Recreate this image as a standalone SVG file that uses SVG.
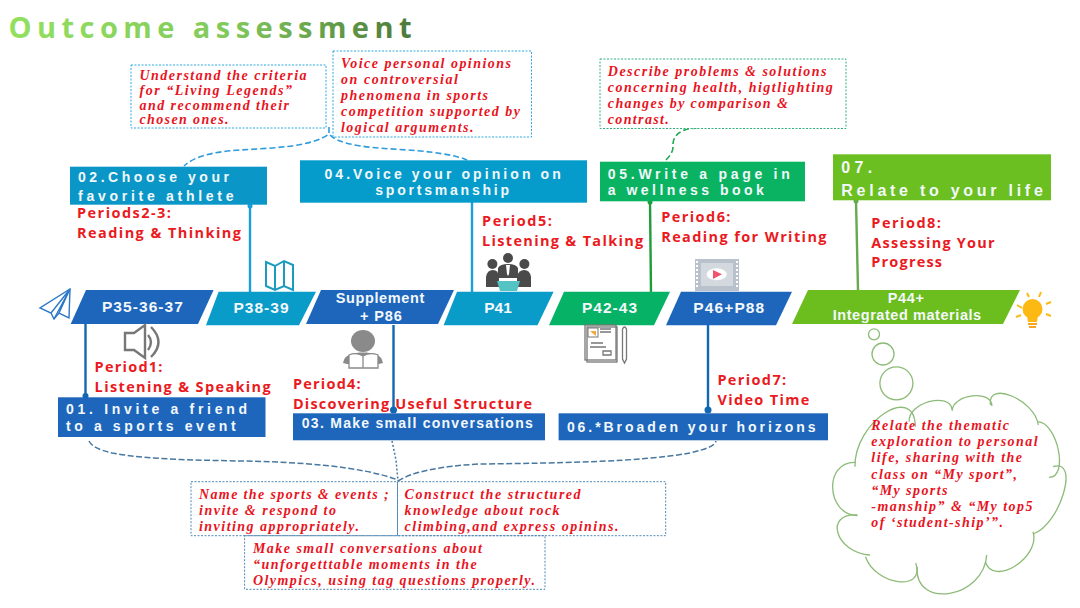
<svg xmlns="http://www.w3.org/2000/svg" width="1080" height="608" viewBox="0 0 1080 608">
<defs>
<linearGradient id="tg" gradientUnits="userSpaceOnUse" x1="8" y1="0" x2="411" y2="0"><stop offset="0" stop-color="#93e05f"/><stop offset="0.55" stop-color="#82c95c"/><stop offset="1" stop-color="#4c7a3a"/></linearGradient>
</defs>
<style>
.obj{font-family:"Liberation Serif","Times New Roman",serif;font-style:italic;font-weight:700;font-size:14px;fill:#e8141e}
.per{font-family:"Open Sans","Noto Sans",sans-serif;font-weight:700;font-size:14.5px;fill:#ea1a1e}
.hd{font-family:"Liberation Sans",Arial,sans-serif;font-weight:700;font-size:14px;fill:#f2f8fb}
.bar{font-family:"Liberation Sans",Arial,sans-serif;font-weight:700;font-size:15.5px;fill:#f4f8fb}
.dash{fill:#fff;stroke:#2ea8dc;stroke-width:1;stroke-dasharray:2 1.5}
.dashg{fill:#fff;stroke:#2fb27c;stroke-width:1;stroke-dasharray:2 1.5}
.dashb{fill:none;stroke:#4f88b4;stroke-width:1;stroke-dasharray:2 1.5}
.cv{fill:none;stroke:#2e9bdc;stroke-width:1.6;stroke-dasharray:6 3}
.cvb{fill:none;stroke:#48789f;stroke-width:1.5;stroke-dasharray:6 2.5}
.st{fill:none;stroke-width:2.4}
.ic{fill:none;stroke:#777;stroke-width:1.3}
</style>
<rect width="1080" height="608" fill="#fff"/>
<text id="title" x="8.500" y="38.300" font-family="Open Sans, Noto Sans, sans-serif" font-weight="700" font-size="29" fill="url(#tg)" textLength="403" lengthAdjust="spacing">Outcome assessment</text>

<g id="connectors">
<path class="cv" d="M329 127V134C312 147 272 148 240 150C212 152 195 156 184 166"/>
<path class="cv" d="M330 135C345 150 400 148 430 152C445 154 458 156 467 160"/>
<path d="M698 128C680 128 672 136 673 147C673 153 668 158 664 162" fill="none" stroke="#1fa94f" stroke-width="1.600" stroke-dasharray="6 3"/>
<path class="cvb" d="M89 441C92 447 100 450 112 453C150 460 200 460 240 461C300 462 360 466 398 480"/>
<path class="cvb" d="M398 481C412 472 440 466 480 464C560 463 640 462 690 453C705 449 714 447 716 441"/>
<path d="M392 441L396 460L398 481" fill="none" stroke="#48789f" stroke-width="1.500" stroke-dasharray="2 2"/>
<path class="st" stroke="#1a9fd8" d="M250 205V292"/><circle cx="250" cy="206" r="2.500" fill="#1a9fd8"/>
<path class="st" stroke="#1a9fd8" d="M472 202V292"/>
<path class="st" stroke="#1f9d3a" d="M650 201L651 292"/><circle cx="650" cy="202" r="2.500" fill="#1f9d3a"/>
<path class="st" stroke="#66a94e" d="M856 200L858 290"/><circle cx="856" cy="201" r="2.500" fill="#66a94e"/>
<path class="st" stroke="#1267b2" d="M85.500 324V397"/><circle cx="85.500" cy="396" r="3" fill="#1267b2"/>
<path class="st" stroke="#1267b2" d="M393.500 325V411"/><circle cx="393.500" cy="410" r="3.500" fill="#1267b2"/>
<path class="st" stroke="#1267b2" d="M708 325V411"/><circle cx="708" cy="410" r="3.500" fill="#1267b2"/>
</g>

<g id="obj-a"><rect class="dash" x="131" y="65" width="195" height="63"/>
<text class="obj" x="139.500" y="80" textLength="167" lengthAdjust="spacing">Understand the criteria</text>
<text class="obj" x="139.500" y="95" textLength="152.500" lengthAdjust="spacing">for “Living Legends”</text>
<text class="obj" x="139.500" y="110" textLength="149.500" lengthAdjust="spacing">and recommend their</text>
<text class="obj" x="139.500" y="124" textLength="89" lengthAdjust="spacing">chosen ones.</text></g>
<g id="obj-b"><rect class="dash" x="333" y="51" width="198.500" height="86"/>
<text class="obj" x="341" y="67.700" textLength="170" lengthAdjust="spacing">Voice personal opinions</text>
<text class="obj" x="341" y="83.700" textLength="117" lengthAdjust="spacing">on controversial</text>
<text class="obj" x="341" y="100" textLength="147" lengthAdjust="spacing">phenomena in sports</text>
<text class="obj" x="341" y="116" textLength="179" lengthAdjust="spacing">competition supported by</text>
<text class="obj" x="341" y="132" textLength="132.500" lengthAdjust="spacing">logical arguments.</text></g>
<g id="obj-c"><rect class="dashg" x="600" y="59" width="246" height="69.500"/>
<text class="obj" x="607.800" y="75.700" textLength="218.700" lengthAdjust="spacing">Describe problems &amp; solutions</text>
<text class="obj" x="607.800" y="92" textLength="225" lengthAdjust="spacing">concerning health, higtlighting</text>
<text class="obj" x="607.800" y="108.300" textLength="180" lengthAdjust="spacing">changes by comparison &amp;</text>
<text class="obj" x="607.800" y="124" textLength="61" lengthAdjust="spacing">contrast.</text></g>

<g id="step-02"><rect x="70" y="166.700" width="197" height="38" fill="#0a96c6"/>
<text class="hd" x="78" y="182" textLength="151" lengthAdjust="spacing">02.Choose your</text>
<text class="hd" x="78" y="201" textLength="155.500" lengthAdjust="spacing">favorite athlete</text></g>
<g id="step-04"><rect x="300" y="160.300" width="287" height="42.400" fill="#059ccb"/>
<text class="hd" x="324.400" y="179" textLength="236.300" lengthAdjust="spacing">04.Voice your opinion on</text>
<text class="hd" x="375.300" y="195.300" textLength="133.700" lengthAdjust="spacing">sportsmanship</text></g>
<g id="step-05"><rect x="600" y="161.700" width="205" height="39.600" fill="#0ab361"/>
<text class="hd" x="607.800" y="179" textLength="181.900" lengthAdjust="spacing">05.Write a page in</text>
<text class="hd" x="607.800" y="195" textLength="156.100" lengthAdjust="spacing">a wellness book</text></g>
<g id="step-07"><rect x="833" y="154.300" width="218" height="46" fill="#6cbf20"/>
<text class="hd" x="841.300" y="173.300" style="font-size:16px" textLength="31" lengthAdjust="spacing">07.</text>
<text class="hd" x="841.300" y="195.700" style="font-size:16px" textLength="201.500" lengthAdjust="spacing">Relate to your life</text></g>
<g id="step-01"><rect x="58" y="397.300" width="207.500" height="39.700" fill="#1e66bb"/>
<text class="hd" x="66" y="414.300" textLength="181" lengthAdjust="spacing">01. Invite a friend</text>
<text class="hd" x="66" y="431" textLength="169.700" lengthAdjust="spacing">to a sports event</text></g>
<g id="step-03"><rect x="293" y="413.300" width="252" height="27" fill="#1e66bb"/>
<text class="hd" x="301.800" y="428.300" textLength="231" lengthAdjust="spacing">03. Make small conversations</text></g>
<g id="step-06"><rect x="558.600" y="413.300" width="269.400" height="27" fill="#1e66bb"/>
<text class="hd" x="566.900" y="432.300" textLength="248.600" lengthAdjust="spacing">06.*Broaden your horizons</text></g>

<g id="bar-p35"><polygon points="86,290 213.600,290 198,324 70.700,324" fill="#1e66bb"/><text class="bar" x="101.900" y="312.300" textLength="81" lengthAdjust="spacing">P35-36-37</text></g>
<g id="bar-p38"><polygon points="218.600,291.700 316,291.700 299,325.300 206,325.300" fill="#0a9cc9"/><text class="bar" x="233.500" y="313.300" textLength="55" lengthAdjust="spacing">P38-39</text></g>
<g id="bar-sup"><polygon points="321,290 454,290 438,324 306,324" fill="#1e66bb"/><text class="bar" x="335.700" y="303.300" style="font-size:14.500px" textLength="88.600" lengthAdjust="spacing">Supplement</text><text class="bar" x="360" y="320.700" style="font-size:14.500px" textLength="41.800" lengthAdjust="spacing">+ P86</text></g>
<g id="bar-p41"><polygon points="457,291.700 553.600,291.700 537.500,325.300 443.600,325.300" fill="#0a9cc9"/><text class="bar" x="484.300" y="313.300" textLength="27.500" lengthAdjust="spacing">P41</text></g>
<g id="bar-p42"><polygon points="564,291.700 670,291.700 654,325.300 549,325.300" fill="#06b265"/><text class="bar" x="582" y="313.300" textLength="55" lengthAdjust="spacing">P42-43</text></g>
<g id="bar-p46"><polygon points="681,291.700 792,291.700 776,325.300 666,325.300" fill="#1e66bb"/><text class="bar" x="693.300" y="313.300" textLength="70.900" lengthAdjust="spacing">P46+P88</text></g>
<g id="bar-p44"><polygon points="808,290 1020,290 1003,324 792,324" fill="#6cbd1e"/><text class="bar" x="887.800" y="302.700" style="font-size:14.500px" textLength="36.200" lengthAdjust="spacing">P44+</text><text class="bar" x="832.700" y="320" style="font-size:14.500px" textLength="148.500" lengthAdjust="spacing">Integrated materials</text></g>

<g id="labels">
<text class="per" x="77" y="218.300" textLength="94" lengthAdjust="spacing">Periods2-3:</text>
<text class="per" x="77" y="238.300" textLength="164" lengthAdjust="spacing">Reading &amp; Thinking</text>
<text class="per" x="482" y="226" textLength="70" lengthAdjust="spacing">Period5:</text>
<text class="per" x="482" y="246" textLength="161.300" lengthAdjust="spacing">Listening &amp; Talking</text>
<text class="per" x="661.200" y="222.300" textLength="69.300" lengthAdjust="spacing">Period6:</text>
<text class="per" x="661.200" y="242" textLength="165.300" lengthAdjust="spacing">Reading for Writing</text>
<text class="per" x="871.300" y="228.300" textLength="69.700" lengthAdjust="spacing">Period8:</text>
<text class="per" x="871.300" y="248" textLength="123.300" lengthAdjust="spacing">Assessing Your</text>
<text class="per" x="871.300" y="267.300" textLength="70.700" lengthAdjust="spacing">Progress</text>
<text class="per" x="94.600" y="372.300" textLength="67.900" lengthAdjust="spacing">Period1:</text>
<text class="per" x="94.600" y="392.300" textLength="176.100" lengthAdjust="spacing">Listening &amp; Speaking</text>
<text class="per" x="292.900" y="389.300" textLength="67.800" lengthAdjust="spacing">Period4:</text>
<text class="per" x="292.900" y="409" textLength="239.100" lengthAdjust="spacing">Discovering Useful Structure</text>
<text class="per" x="717.400" y="385.300" textLength="68.800" lengthAdjust="spacing">Period7:</text>
<text class="per" x="717.400" y="404.700" textLength="91.900" lengthAdjust="spacing">Video Time</text>
</g>

<g id="obj-d"><rect class="dashb" x="191" y="481.700" width="206.500" height="54"/>
<text class="obj" x="199" y="499" textLength="189.600" lengthAdjust="spacing">Name the sports &amp; events ;</text>
<text class="obj" x="199" y="515" textLength="137" lengthAdjust="spacing">invite &amp; respond to</text>
<text class="obj" x="199" y="531.300" textLength="160" lengthAdjust="spacing">inviting appropriately.</text></g>
<g id="obj-e"><rect class="dashb" x="397.500" y="481.700" width="268.200" height="54"/>
<text class="obj" x="404.600" y="499" textLength="176" lengthAdjust="spacing">Construct the structured</text>
<text class="obj" x="404.600" y="515" textLength="155" lengthAdjust="spacing">knowledge about rock</text>
<text class="obj" x="404.600" y="531.300" textLength="213.900" lengthAdjust="spacing">climbing,and express opinins.</text></g>
<g id="obj-f"><rect class="dashb" x="244.600" y="535.700" width="300.400" height="53.600"/>
<text class="obj" x="252.900" y="552.700" textLength="229.100" lengthAdjust="spacing">Make small conversations about</text>
<text class="obj" x="252.900" y="568.700" textLength="223.900" lengthAdjust="spacing">“unforgetttable moments in the</text>
<text class="obj" x="252.900" y="585" textLength="282.100" lengthAdjust="spacing">Olympics, using tag questions properly.</text></g>

<g id="cloud" fill="none" stroke="#8dbb78" stroke-width="1.300">
<circle cx="874" cy="334.300" r="5.500"/><circle cx="883" cy="354" r="11"/><circle cx="896.400" cy="383.300" r="16.500"/>
<path d="M909.200 421.700C907.200 402.800 950.200 391.100 952.200 410"/>
<path d="M952.200 410.700C952.500 394.200 992.200 389.500 991.900 406"/>
<path d="M990.500 405C987 379.700 1034.800 399.700 1038.300 425"/>
<path d="M1037.700 421.700C1057.700 422.400 1069 478 1049 477.300"/>
<path d="M1053 466.700C1080.200 457.300 1060.400 524.600 1033.200 534"/>
<path d="M1033 531.700C1041 557.400 993.300 587.400 985.300 561.700"/>
<path d="M986.700 555C983.900 598.300 914.300 610 917.100 566.700"/>
<path d="M915.700 563C925.800 592.100 875.600 585.800 865.500 556.700"/>
<path d="M870 555C835.700 552.700 823.200 512.700 857.500 515"/>
<path d="M857.500 515.700C826 514.800 823.600 461.400 855.100 462.300"/>
<path d="M855 466.700C854 422.200 914.400 382.200 915.400 426.700"/>
<text class="obj" stroke="none" x="871.300" y="430" textLength="137.700" lengthAdjust="spacing">Relate the thematic</text>
<text class="obj" stroke="none" x="871.300" y="446" textLength="166.400" lengthAdjust="spacing">exploration to personal</text>
<text class="obj" stroke="none" x="871.300" y="462.300" textLength="150.700" lengthAdjust="spacing">life, sharing with the</text>
<text class="obj" stroke="none" x="871.300" y="478.700" textLength="145.700" lengthAdjust="spacing">class on “My sport”,</text>
<text class="obj" stroke="none" x="871.300" y="495" textLength="76.100" lengthAdjust="spacing">“My sports</text>
<text class="obj" stroke="none" x="871.300" y="511" textLength="161.200" lengthAdjust="spacing">-manship” &amp; “My top5</text>
<text class="obj" stroke="none" x="871.300" y="527.300" textLength="131.700" lengthAdjust="spacing">of ‘student-ship’”.</text>
</g>

<g id="icons">
<g fill="none" stroke="#2a78c8" stroke-width="1.400"><path d="M70 289L40 308L51 313L54 319L59 313L69 318Z"/><path d="M70 289L51 313M70 289L59 313M70 289L54 319"/></g>
<g fill="none" stroke="#1a9cc0" stroke-width="2"><path d="M266 262L275 266L284 261L293 265V290L284 286L275 290L266 286Z"/><path d="M275 266V290M284 261V286"/></g>
<g fill="none" stroke="#777" stroke-width="2.400"><path d="M125 333H134L145 325V358L134 350H125Z"/><path d="M148 335Q154 342 148 350"/><path d="M151 327Q166 342 151 357"/></g>
<g><ellipse cx="363" cy="341" rx="12" ry="11" fill="#8a8a8a"/><path d="M344 360C346 350 380 350 382 360L383 363L379 364H347L343 363Z" fill="#8a8a8a"/><path d="M349 355Q356 352 363 356Q370 352 378 355V368H349ZM363 356V368" fill="#fff" stroke="#8a8a8a" stroke-width="1.300"/></g>
<g fill="#4a4a4a"><circle cx="508" cy="258" r="5"/><circle cx="492.400" cy="264" r="5"/><circle cx="524.400" cy="264" r="5"/><path d="M486 287V277Q487 270 493 270Q498 270 499 276V287Z"/><path d="M517 287V276Q519 270 524 270Q530 270 531 277V287Z"/><path d="M498 278V268Q500 264 508 264Q516 264 518 268V278Z"/><path d="M506 265H510L509 274L508 276L507 274Z" fill="#fff"/><path d="M497 281H520L517 291H500Z" fill="#54c3c3"/></g>
<g><rect x="695" y="259" width="44" height="32" fill="#b9c2cc"/><rect x="701" y="263" width="32" height="23" fill="#d3d9df"/><path d="M697 261V289M737 261V289" stroke="#fff" stroke-width="2" stroke-dasharray="2 2"/><ellipse cx="716.700" cy="274.300" rx="10" ry="6" fill="#fff"/><path d="M713 270L722 274.300L713 279Z" fill="#ef5470"/></g>
<g><rect class="ic" x="587" y="327" width="30" height="35" fill="#fff"/><rect class="ic" x="585" y="325" width="31" height="35" fill="#fff"/><rect x="588" y="328" width="10" height="9" fill="#fff" stroke="#777"/><path d="M590 331H596V336Z" fill="#f4a63a"/><path class="ic" d="M600 329H611M600 332H611M591 343H603M590 347H606M603 355H611V351H603Z"/><path class="ic" d="M622.500 329Q624.500 325 626.500 329V359L624.500 363L622.500 359Z"/></g>
<g><circle cx="1032.500" cy="309" r="10" fill="#fdb913"/><path d="M1027 315H1038L1037 322H1028Z" fill="#fdb913"/><rect x="1028" y="323" width="9" height="2" fill="#f5a623"/><rect x="1029" y="326" width="7" height="2" fill="#f5a623"/><path d="M1017 305L1022 308M1016 317L1021 315M1027 293L1029 297M1041 292L1039 297M1051 302L1046 304M1051 316L1046 314" stroke="#fdb913" stroke-width="2" fill="none"/></g>
</g>
</svg>
